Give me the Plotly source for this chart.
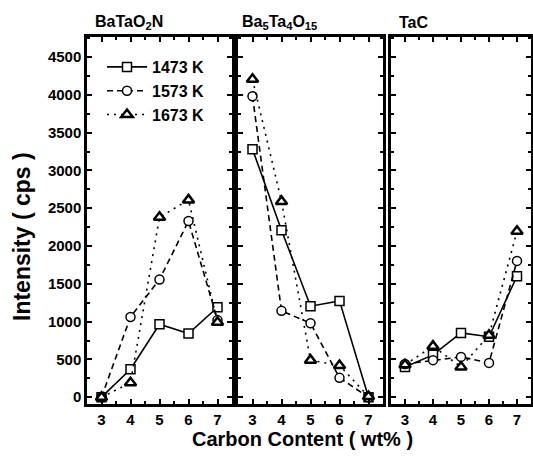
import plotly.graph_objects as go

carbon = [3, 4, 5, 6, 7]
panels = ["BaTaO<sub>2</sub>N", "Ba<sub>5</sub>Ta<sub>4</sub>O<sub>15</sub>", "TaC"]
temps = ["1473 K", "1573 K", "1673 K"]

# BaTaO2N
p1_1473 = [0, 370, 965, 842, 1190]
p1_1573 = [0, 1062, 1557, 2330, 1020]
p1_1673 = [0, 190, 2380, 2610, 990]
# Ba5Ta4O15
p2_1473 = [3280, 2209, 1204, 1274, 0]
p2_1573 = [3981, 1142, 979, 256, 0]
p2_1673 = [4206, 2590, 490, 420, 10]
# TaC
p3_1473 = [400, 560, 850, 800, 1600]
p3_1573 = [440, 490, 533, 454, 1803]
p3_1673 = [430, 675, 400, 820, 2196]

data = [[p1_1473, p1_1573, p1_1673],
        [p2_1473, p2_1573, p2_1673],
        [p3_1473, p3_1573, p3_1673]]

W, H = 533, 461
FONT = "Liberation Sans, Arial, sans-serif"
styles = [
    dict(dash="solid", symbol="square", size=9, lw=1.5),
    dict(dash="6px,4px", symbol="circle", size=9, lw=1.5),
    dict(dash="2px,5px", symbol="triangle-up", size=10, lw=2.5),
]

x_doms = [(87 / W, 232 / W), (238 / W, 383 / W), (391 / W, 531 / W)]
y_dom = (1 - 404 / H, 1 - 37 / H)

fig = go.Figure()
for i in range(3):
    ax = "" if i == 0 else str(i + 1)
    for j in range(3):
        st = styles[j]
        fig.add_trace(go.Scatter(
            x=carbon, y=data[i][j], mode="lines+markers",
            name=temps[j], showlegend=(i == 0),
            xaxis="x" + ax, yaxis="y" + ax,
            line=dict(color="black", width=1.6, dash=st["dash"]),
            marker=dict(symbol=st["symbol"], size=st["size"], color="white",
                        line=dict(color="black", width=st["lw"])),
        ))

axis_common = dict(
    showline=True, linewidth=2.5, linecolor="black", mirror="ticks",
    ticks="inside", ticklen=5, tickwidth=2, tickcolor="black",
    showgrid=False, zeroline=False,
    tickfont=dict(family=FONT, size=15, color="black", weight="bold"),
)
layout = dict(
    width=W, height=H, margin=dict(l=0, r=0, t=0, b=0),
    paper_bgcolor="white", plot_bgcolor="white",
    font=dict(family=FONT, color="black"),
    legend=dict(x=102 / W, y=1 - 50 / H, xanchor="left", yanchor="top",
                bgcolor="rgba(0,0,0,0)",
                font=dict(family=FONT, size=16, color="black", weight="bold"),
                tracegroupgap=0, itemwidth=40),
)
for i in range(3):
    xa = "xaxis" if i == 0 else f"xaxis{i+1}"
    ya = "yaxis" if i == 0 else f"yaxis{i+1}"
    anc = "y" if i == 0 else f"y{i+1}"
    xanc = "x" if i == 0 else f"x{i+1}"
    layout[xa] = dict(axis_common, domain=list(x_doms[i]), anchor=anc,
                      range=[2.5, 7.5], tickvals=carbon,
                      minor=dict(dtick=0.5, ticks="inside", ticklen=3,
                                 tickwidth=2, tickcolor="black"))
    layout[ya] = dict(axis_common, domain=list(y_dom), anchor=xanc,
                      range=[-90, 4765], dtick=500, tick0=0,
                      showticklabels=(i == 0),
                      minor=dict(dtick=250, ticks="inside", ticklen=3,
                                 tickwidth=2, tickcolor="black"))
fig.update_layout(**layout)

title_x = [93, 240, 397]
for i in range(3):
    fig.add_annotation(text=panels[i], xref="paper", yref="paper",
                       x=title_x[i] / W, y=1 - 22 / H, xanchor="left",
                       yanchor="middle", showarrow=False,
                       font=dict(family=FONT, size=16, color="black", weight="bold"))

fig.add_annotation(text="Carbon Content ( wt% )", xref="paper", yref="paper",
                   x=302 / W, y=1 - 439 / H, xanchor="center", yanchor="middle",
                   showarrow=False,
                   font=dict(family=FONT, size=20, color="black", weight="bold"))
fig.add_annotation(text="Intensity ( cps )", xref="paper", yref="paper",
                   x=22 / W, y=1 - 237 / H, xanchor="center", yanchor="middle",
                   textangle=-90, showarrow=False,
                   font=dict(family=FONT, size=23, color="black", weight="bold"))

fig.write_html("out.html")
